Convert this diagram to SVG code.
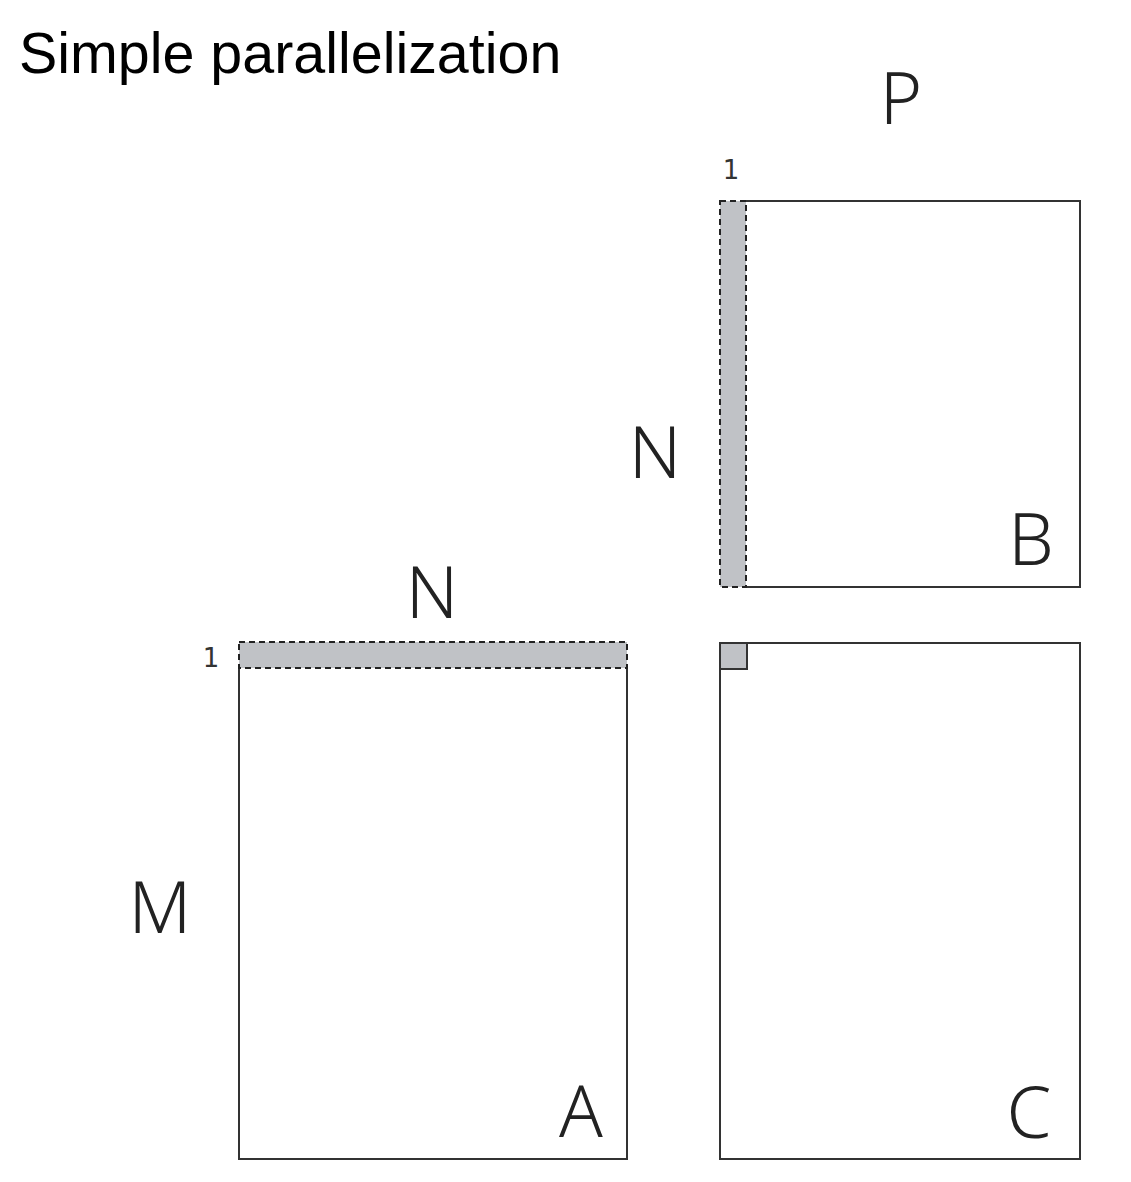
<svg xmlns="http://www.w3.org/2000/svg" width="1131" height="1182" viewBox="0 0 1131 1182">
<style>
.title{font-family:"Liberation Sans",Arial,sans-serif;font-size:57.4px;fill:#000}
.lbl{font-family:"Noto Sans","Open Sans",sans-serif;font-size:72px;font-weight:350;fill:#222;text-anchor:middle}
.one{font-family:"DejaVu Sans",sans-serif;font-size:26px;fill:#333;text-anchor:middle}
.solid{fill:none;stroke:#333;stroke-width:2}
.stripe{fill:#c0c2c6;stroke:#222;stroke-width:2;stroke-dasharray:6 4}
.cell{fill:#c0c2c6;stroke:#333;stroke-width:2}
</style>
<rect width="1131" height="1182" fill="#fff"/>
<text class="title" x="19" y="73">Simple parallelization</text>
<g id="matrixB">
<path class="solid" d="M746,201 H1080 V587 H746"/>
<rect class="stripe" x="720" y="201" width="26" height="386"/>
<text class="one" x="731" y="179">1</text>
<text class="lbl" x="901" y="124">P</text>
<text class="lbl" x="655" y="478">N</text>
<text class="lbl" x="1031" y="565">B</text>
</g>
<g id="matrixA">
<path class="solid" d="M239,668 V1159 H627 V668"/>
<rect class="stripe" x="239" y="642" width="388" height="26"/>
<text class="one" x="211" y="667">1</text>
<text class="lbl" x="432" y="618">N</text>
<text class="lbl" x="160" y="933">M</text>
<text class="lbl" x="581" y="1137">A</text>
</g>
<g id="matrixC">
<rect class="solid" x="720" y="643" width="360" height="516"/>
<rect class="cell" x="720" y="643" width="27" height="26"/>
<text class="lbl" x="1029" y="1138">C</text>
</g>
<g id="connectors"></g>
</svg>
